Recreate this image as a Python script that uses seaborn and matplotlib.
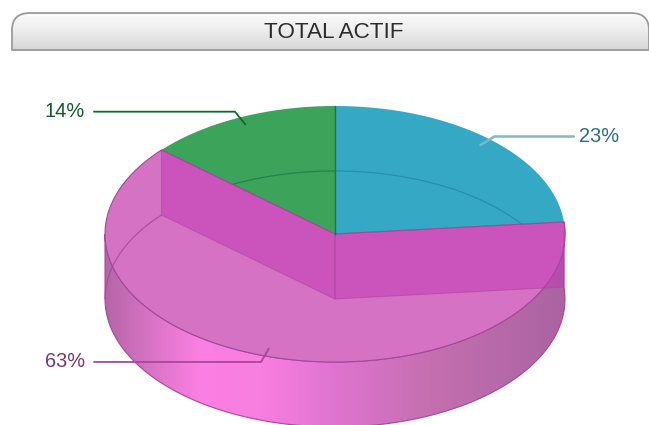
import numpy as np
import matplotlib
matplotlib.use("Agg")
import matplotlib.pyplot as plt
from matplotlib.patches import PathPatch, Polygon
from matplotlib.path import Path
import seaborn as sns

# Data, clockwise from the top
labels = ['23%', '63%', '14%']
shares = [23.5, 62.9, 13.6]
top_colors = ['#35a8c6', '#d672c4', '#3ba35a']
line_colors = ['#7fb8c8', '#a8479a', '#0f6b2a']
text_colors = ['#2f6a7d', '#74396c', '#14582a']
title = 'TOTAL ACTIF'

# Geometry of the pie, in pixels
CX, CY = 335, 234
RX, RY = 230, 128
DEPTH = 65

sns.set_theme(style="white")
plt.rcParams['font.family'] = ['Liberation Sans', 'DejaVu Sans']

fig = plt.figure(figsize=(6.49, 4.25), dpi=100)
ax = fig.add_axes([0, 0, 1, 1])


def ell(t, dy=0, r=1.0):
    t = np.radians(t)
    return np.column_stack([CX + r * RX * np.cos(t), CY + dy - r * RY * np.sin(t)])


# slice angles
edges = 90 - 3.6 * np.cumsum([0] + shares)
t_blue_end = edges[1]
t_pink_end = edges[2]
t_green_start = edges[2] + 360

# Header bar, rounded on top only
verts = [(12, 50), (12, 30), (12, 13), (30, 13), (631, 13), (649, 13), (649, 30), (649, 50), (12, 50)]
codes = [Path.MOVETO, Path.LINETO, Path.CURVE3, Path.CURVE3, Path.LINETO, Path.CURVE3, Path.CURVE3,
         Path.LINETO, Path.CLOSEPOLY]
head = PathPatch(Path(verts, codes), fc='none', ec='#9a9a9a', lw=1.3, zorder=3)
ax.add_patch(head)
grad = np.linspace(0, 1, 40)[:, None]
head_cmap = sns.blend_palette(['#fbfbfb', '#ececec', '#d6d6d6'], as_cmap=True)
im = ax.imshow(grad, extent=(12, 649, 50, 13), cmap=head_cmap, aspect='auto', zorder=2)
im.set_clip_path(head)
ax.text(334, 32, title, ha='center', va='center', fontsize=16.2, color='#2b2b2b', zorder=4)

# Back slices, with the bottom rim showing through them
for t0, t1, c, rim in [(t_blue_end, 90, top_colors[0], '#1f8ba8'), (90, t_green_start, top_colors[2], '#1f7d42')]:
    pts = np.vstack([[CX, CY], ell(np.linspace(t0, t1, 80))])
    wedge = Polygon(pts, closed=True, fc=c, ec='none', zorder=5)
    ax.add_patch(wedge)
    arc = ell(np.linspace(t0, t1, 80), DEPTH)
    rim_line, = ax.plot(arc[:, 0], arc[:, 1], color=rim, lw=0.9, alpha=0.8, zorder=11)
    rim_line.set_clip_path(wedge)

# Outer wall with horizontal gradient
tw = np.linspace(t_blue_end, -180, 200)
front = ell(tw)
back = ell(tw[::-1], DEPTH)
wall = Path(np.vstack([front, back, front[:1]]))
wall_patch = PathPatch(wall, fc='none', ec='#a2489a', lw=0.8, zorder=7)
ax.add_patch(wall_patch)
stop_x = [105, 150, 200, 260, 335, 430, 565]
stop_c = ['#b565a8', '#d873c4', '#fc7fe3', '#f87ee0', '#df74cf', '#c46fb0', '#ab63a1']
xs = np.arange(105, 567)
stop_rgb = np.array([matplotlib.colors.to_rgb(c) for c in stop_c])
rgb = np.array([np.interp(xs, stop_x, stop_rgb[:, k]) for k in range(3)]).T[None, :, :]
wim = ax.imshow(rgb, extent=(105, 566, 440, 200), aspect='auto', zorder=6)
wim.set_clip_path(wall_patch)

# Top face of the large slice
tp = np.linspace(t_blue_end, t_pink_end, 240)
pts = np.vstack([[CX, CY], ell(tp)])
ax.add_patch(Polygon(pts, closed=True, fc=top_colors[1], ec='#a2489a', lw=0.8, zorder=8))

# Inner walls, see-through
for t in (t_blue_end, t_green_start):
    p = ell(np.array([t]))[0]
    quad = [[CX, CY], p, p + [0, DEPTH], [CX, CY + DEPTH]]
    ax.add_patch(Polygon(quad, closed=True, fc='#c238b6', ec='none', alpha=0.5, zorder=9))
    ax.add_patch(Polygon(quad, closed=True, fc='none', ec='#a2489a', alpha=0.55, lw=0.8, zorder=10))

# Bottom rim on the left, seen through the large slice
arc = ell(np.linspace(t_green_start, 180, 40), DEPTH)
ax.plot(arc[:, 0], arc[:, 1], color='#a2489a', lw=0.9, alpha=0.8, zorder=11)
ax.plot([CX, CX], [CY - RY, CY], color='#1b7a35', lw=1.0, zorder=11)

# Leader lines and labels
mids = (edges[:-1] + edges[1:]) / 2
ends = [574, 94, 94]
outer_r = [1.03, 1.05, 1.05]
for i, m in enumerate(mids):
    outer = ell(np.array([m]), r=outer_r[i])[0]
    inner = ell(np.array([m]), r=0.94)[0]
    lw = 1.8 if i == 0 else 1.3
    ax.plot([ends[i], outer[0], inner[0]], [outer[1], outer[1], inner[1]],
            color=line_colors[i], lw=lw, zorder=12, solid_joinstyle='miter')
    if ends[i] > CX:
        ax.text(ends[i] + 5, outer[1], labels[i], ha='left', va='center',
                fontsize=14.4, color=text_colors[i], zorder=13)
    else:
        ax.text(ends[i] - 9, outer[1], labels[i], ha='right', va='center',
                fontsize=14.4, color=text_colors[i], zorder=13)

ax.set_xlim(0, 649)
ax.set_ylim(425, 0)
ax.axis('off')
fig.savefig('out.png', dpi=100, facecolor='white')
